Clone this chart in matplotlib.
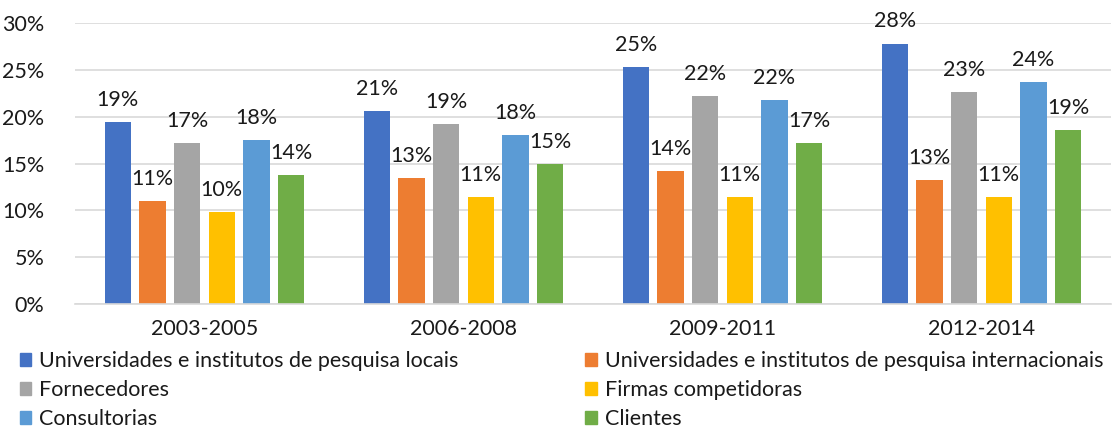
import matplotlib.pyplot as plt
from matplotlib.patches import Patch
import numpy as np

plt.rcParams['font.family'] = ['Lato', 'DejaVu Sans']

periods = ['2003-2005', '2006-2008', '2009-2011', '2012-2014']
series = ['Universidades e institutos de pesquisa locais',
          'Universidades e institutos de pesquisa internacionais',
          'Fornecedores', 'Firmas competidoras', 'Consultorias', 'Clientes']
locais = [19.4, 20.6, 25.3, 27.8]
internacionais = [11.0, 13.4, 14.2, 13.2]
fornecedores = [17.2, 19.2, 22.2, 22.6]
competidoras = [9.8, 11.4, 11.4, 11.4]
consultorias = [17.5, 18.0, 21.8, 23.7]
clientes = [13.8, 14.9, 17.2, 18.6]
colors = ['#4472C4', '#ED7D31', '#A5A5A5', '#FFC000', '#5B9BD5', '#70AD47']

values = [locais, internacionais, fornecedores, competidoras, consultorias, clientes]

fig = plt.figure(figsize=(11.17, 4.28), dpi=100)
ax = fig.add_axes([75/1117, 1-304/428, 1036/1117, 281/428])

x = np.arange(len(periods))
slot = 0.134
w = 0.101
for i, (vals, c) in enumerate(zip(values, colors)):
    pos = x + (i - 2.5) * slot
    ax.bar(pos, vals, width=w, color=c, zorder=2)
    for p, v in zip(pos, vals):
        ax.text(p, v + 1.3, f'{round(v):.0f}%', ha='center', va='bottom', fontsize=15.5, color='#1a1a1a')

ax.set_xlim(-0.5, 3.5)
ax.set_ylim(0, 30)
ax.set_yticks(range(0, 31, 5))
ax.set_yticklabels([f'{t}%' for t in range(0, 31, 5)])
ax.set_xticks(x)
ax.set_xticklabels(periods)
ax.tick_params(length=0, labelsize=15.5, colors='#1a1a1a')
ax.tick_params(axis='y', pad=22)
ax.tick_params(axis='x', pad=11)
ax.grid(axis='y', color='#D9D9D9', linewidth=1.2, zorder=0)
for s in ['top', 'right', 'left']:
    ax.spines[s].set_visible(False)
ax.spines['bottom'].set_color('#D9D9D9')
ax.spines['bottom'].set_linewidth(1.2)

handles = [Patch(color=c, label=s) for c, s in zip(colors, series)]
order = [0, 2, 4, 1, 3, 5]
fig.legend([handles[i] for i in order], [series[i] for i in order],
           loc='upper left', bbox_to_anchor=(0.004, 0.215), ncol=2, frameon=False,
           fontsize=15.5, handlelength=0.55, handleheight=0.55, handletextpad=0.35,
           columnspacing=5.9, labelspacing=0.42, labelcolor='#1a1a1a',
           borderpad=0.2)

fig.savefig('out.png', dpi=100)
